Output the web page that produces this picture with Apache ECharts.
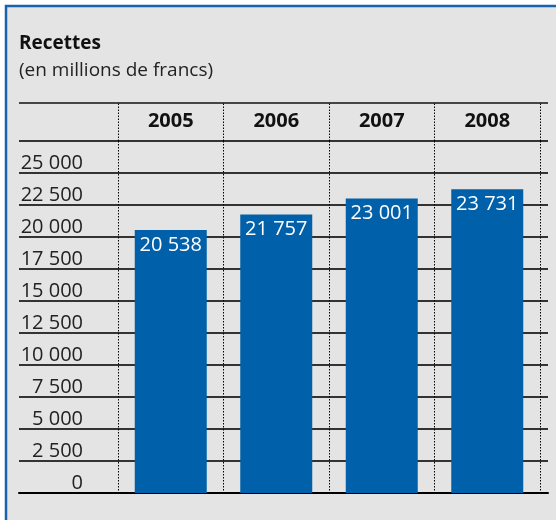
<!DOCTYPE html>
<html>
<head>
<meta charset="utf-8">
<script src="https://cdn.jsdelivr.net/npm/echarts@6/dist/echarts.min.js"></script>
<style>
  html, body { margin: 0; padding: 0; background: #fff; }
  #main { width: 556px; height: 520px; }
</style>
</head>
<body>
<div id="main"></div>
<script>
// données
var years = ['2005', '2006', '2007', '2008'];
var recettes = [20538, 21757, 23001, 23731];
var yMax = 27500;
var yStep = 2500;

var font = '"Open Sans", "Noto Sans", sans-serif';

//séparateur des milliers
function fmt(v) {
	return String(v).replace(/\B(?=(\d{3})+(?!\d))/g, ' ');
}

var chart = echarts.init(document.getElementById('main'));

var dotted = { color: '#000', width: 1, type: [1.5, 1.5] };

var option = {
	backgroundColor: '#fff',
	animation: false,
	textStyle: { fontFamily: font },
	graphic: [
		{	//cadre
			type: 'rect', z: -10,
			shape: { x: 6, y: 6, width: 560, height: 530 },
			style: { fill: '#e3e4e3', stroke: '#1b62ad', lineWidth: 2.5 }
		},
		{
			type: 'text', left: 19, top: 34,
			style: { text: 'Recettes', font: 'bold 19px ' + font, fill: '#111' }
		},
		{
			type: 'text', left: 19, top: 61,
			style: { text: '(en millions de francs)', font: '19px ' + font, fill: '#222' }
		},
		{	//ligne en tête du tableau
			type: 'line',
			shape: { x1: 19, y1: 103, x2: 548, y2: 103 },
			style: { stroke: '#111', lineWidth: 1.5 }
		}
	],
	grid: [
		{ left: 19, right: 8, top: 141, bottom: 27 },
		{ left: 118, right: 16, top: 141, bottom: 27 }
	],
	xAxis: [
		{
			gridIndex: 0, type: 'value', min: 0, max: 1,
			axisLabel: { show: false }, axisTick: { show: false }, splitLine: { show: false },
			axisLine: { show: true, onZero: false, lineStyle: { color: '#000', width: 2 } }
		},
		{
			gridIndex: 1, type: 'category', position: 'top', data: years,
			axisLine: { show: false, onZero: false },
			axisTick: { show: true, interval: 0, length: 38, lineStyle: dotted },
			axisLabel: { interval: 0, margin: 10, fontSize: 20, fontWeight: 'bold', color: '#111', fontFamily: font },
			splitLine: { show: true, interval: 0, lineStyle: dotted }
		}
	],
	yAxis: [
		{
			gridIndex: 0, type: 'value', min: 0, max: yMax, interval: yStep,
			axisLine: { show: false }, axisTick: { show: false },
			axisLabel: {
				inside: true, align: 'right', verticalAlign: 'bottom', margin: 64,
				showMaxLabel: false, fontSize: 20, color: '#222', fontFamily: font,
				formatter: function (v) { return fmt(v); }
			},
			splitLine: { show: true, lineStyle: { color: '#333', width: 2 } }
		},
		{
			gridIndex: 1, type: 'value', min: 0, max: yMax, interval: yStep,
			axisLine: { show: false }, axisTick: { show: false },
			axisLabel: { show: false }, splitLine: { show: false }
		}
	],
	series: [
		{
			name: 'Recettes',
			type: 'bar',
			xAxisIndex: 1, yAxisIndex: 1,
			data: recettes,
			barWidth: 72,
			itemStyle: { color: '#0060aa' },
			label: {
				show: true, position: 'insideTop', distance: 5,
				color: '#fff', fontSize: 20, fontFamily: font,
				formatter: function (p) { return fmt(p.value); }
			}
		}
	]
};

chart.setOption(option);
</script>
</body>
</html>
